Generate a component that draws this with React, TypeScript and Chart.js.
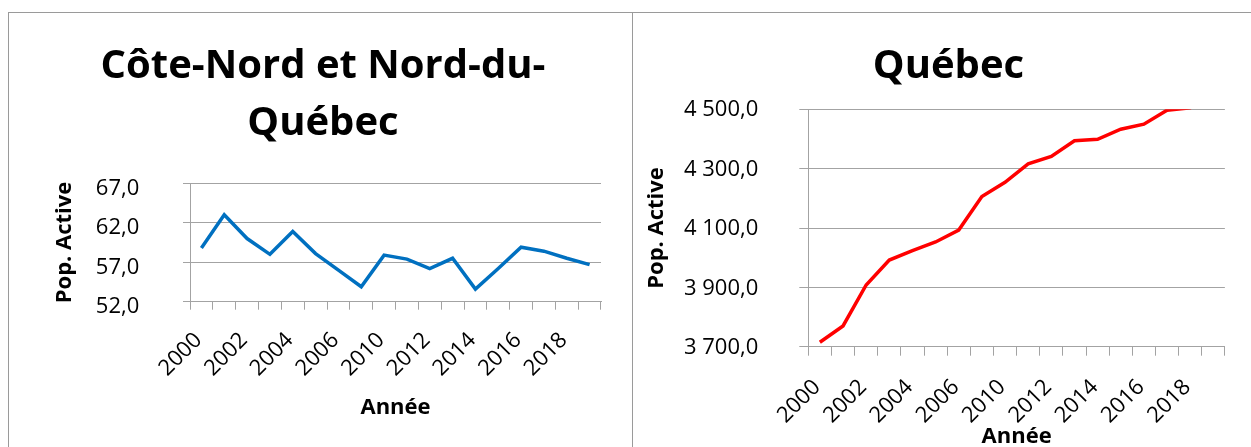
import React, { useEffect, useRef } from 'react';
import { Chart, registerables } from 'chart.js';

Chart.register(...registerables);

// ---- Data ----
const years = ['2000', '2001', '2002', '2003', '2004', '2005', '2006', '2008', '2010', '2011', '2012', '2013', '2014', '2015', '2016', '2017', '2018', '2019'];
const coteNordValues = [58.8, 63.0, 60.0, 58.0, 60.9, 58.1, 56.0, 53.9, 57.9, 57.4, 56.2, 57.5, 53.6, 56.2, 58.9, 58.4, 57.5, 56.7];
const quebecValues = [3715, 3770, 3908, 3992, 4024, 4053, 4093, 4206, 4254, 4316, 4341, 4394, 4399, 4433, 4450, 4497, 4505, 4550];
const coteNordTitle = ['Côte-Nord et Nord-du-', 'Québec'];
const quebecTitle = 'Québec';
const yAxisTitle = 'Pop. Active';
const xAxisTitle = 'Année';
const coteNordAxis = { min: 52, max: 67, step: 5 };
const quebecAxis = { min: 3700, max: 4500, step: 200 };

const FONT = "'Open Sans', sans-serif";
const GRID = '#a3a3a3';
const FRAME = '#9a9a9a';

function formatFr(v: number): string {
  const [intPart, dec] = Math.abs(v).toFixed(1).split('.');
  const grouped = intPart.replace(/\B(?=(\d{3})+(?!\d))/g, ' ');
  return (v < 0 ? '-' : '') + grouped + ',' + dec;
}

type PanelCfg = {
  labels: string[];
  values: number[];
  color: string;
  title: string | string[];
  axis: { min: number; max: number; step: number };
  width: number;
  height: number;
  padLeft: number;
  padRight: number;
  yWidth: number;
  xHeight: number;
  titlePadTop: number;
  titlePadBottom: number;
  yTitlePad: number;
  xTitlePadBottom: number;
  yTickLen: number;
  yTickPad: number;
  yLabelOffset: number;
  xTickLen: number;
  xTickPad: number;
  xLabelOffset: number;
};

function ChartPanel({ cfg }: { cfg: PanelCfg }) {
  const ref = useRef<HTMLCanvasElement | null>(null);
  useEffect(() => {
    if (!ref.current) return;
    const chart = new Chart(ref.current, {
      type: 'line',
      data: {
        labels: cfg.labels,
        datasets: [
          {
            data: cfg.values,
            borderColor: cfg.color,
            backgroundColor: cfg.color,
            borderWidth: 3.5,
            pointRadius: 0,
            tension: 0,
            clip: 0,
            fill: false,
          },
        ],
      },
      options: {
        animation: false,
        responsive: false,
        maintainAspectRatio: false,
        layout: { padding: { left: cfg.padLeft, right: cfg.padRight, top: 0, bottom: 0 } },
        plugins: {
          legend: { display: false },
          tooltip: { enabled: false },
          title: {
            display: true,
            text: cfg.title,
            color: '#000',
            font: { family: FONT, size: 40, weight: 'bold', lineHeight: 1.4175 },
            padding: { top: cfg.titlePadTop, bottom: cfg.titlePadBottom },
          },
        },
        scales: {
          x: {
            type: 'category',
            offset: true,
            grid: {
              offset: true,
              drawOnChartArea: false,
              drawTicks: true,
              tickLength: cfg.xTickLen,
              color: GRID,
              lineWidth: 1,
            },
            border: { display: true, color: GRID, width: 1 },
            ticks: {
              autoSkip: false,
              minRotation: 45,
              maxRotation: 45,
              padding: cfg.xTickPad,
              labelOffset: cfg.xLabelOffset,
              color: '#000',
              font: { family: FONT, size: 22 },
              callback: function (this: any, val: any, idx: number) {
                return idx % 2 === 0 ? this.getLabelForValue(val) : '';
              },
            },
            title: {
              display: true,
              text: xAxisTitle,
              color: '#000',
              font: { family: FONT, size: 22, weight: 'bold', lineHeight: 1.2 },
              padding: { top: 0, bottom: cfg.xTitlePadBottom },
            },
            afterFit: (scale: any) => {
              scale.height = cfg.xHeight;
            },
          },
          y: {
            type: 'linear',
            min: cfg.axis.min,
            max: cfg.axis.max,
            grid: {
              color: GRID,
              lineWidth: 1,
              drawTicks: true,
              tickLength: cfg.yTickLen,
            },
            border: { display: true, color: GRID, width: 1 },
            ticks: {
              stepSize: cfg.axis.step,
              padding: cfg.yTickPad,
              labelOffset: cfg.yLabelOffset,
              color: '#000',
              font: { family: FONT, size: 22 },
              callback: (v: any) => formatFr(Number(v)),
            },
            title: {
              display: true,
              text: yAxisTitle,
              color: '#000',
              font: { family: FONT, size: 22, weight: 'bold', lineHeight: 1.2 },
              padding: { top: cfg.yTitlePad, bottom: 0 },
            },
            afterFit: (scale: any) => {
              scale.width = cfg.yWidth;
            },
          },
        },
      } as any,
    });
    return () => chart.destroy();
  }, [cfg]);
  return <canvas ref={ref} width={cfg.width} height={cfg.height} style={{ display: 'block', width: cfg.width, height: cfg.height }} />;
}

const leftCfg: PanelCfg = {
  labels: years,
  values: coteNordValues,
  color: '#0070C0',
  title: coteNordTitle,
  axis: coteNordAxis,
  width: 623,
  height: 434,
  padLeft: 36,
  padRight: 31,
  yWidth: 145,
  xHeight: 145.3,
  titlePadTop: 25.65,
  titlePadBottom: 31.25,
  yTitlePad: 6.1,
  xTitlePadBottom: 26.5,
  yTickLen: 7,
  yTickPad: 43.7,
  yLabelOffset: 5.2,
  xTickLen: 8,
  xTickPad: 17.7,
  xLabelOffset: -3,
};

const rightCfg: PanelCfg = {
  labels: years,
  values: quebecValues,
  color: '#FF0000',
  title: quebecTitle,
  axis: quebecAxis,
  width: 618,
  height: 460,
  padLeft: 24.7,
  padRight: 11.7,
  yWidth: 150.6,
  xHeight: 126.3,
  titlePadTop: 25.65,
  titlePadBottom: 13.95,
  yTitlePad: -14.6,
  xTitlePadBottom: 22.8,
  yTickLen: 9,
  yTickPad: 41,
  yLabelOffset: 0.9,
  xTickLen: 9,
  xTickPad: 18.7,
  xLabelOffset: -3,
};

export default function App() {
  return (
    <div style={{ position: 'absolute', left: 0, top: 0, width: 1251, height: 447, overflow: 'hidden', background: '#fff' }}>
      <div
        style={{
          position: 'absolute',
          left: 8,
          top: 12,
          width: 625,
          height: 460,
          boxSizing: 'border-box',
          borderLeft: `1px solid ${FRAME}`,
          borderTop: `1px solid ${FRAME}`,
          borderRight: `1px solid ${FRAME}`,
        }}
      >
        <ChartPanel cfg={leftCfg} />
      </div>
      <div
        style={{
          position: 'absolute',
          left: 632,
          top: 12,
          width: 640,
          height: 480,
          boxSizing: 'border-box',
          borderLeft: `1px solid ${FRAME}`,
          borderTop: `1px solid ${FRAME}`,
        }}
      >
        <ChartPanel cfg={rightCfg} />
      </div>
    </div>
  );
}
